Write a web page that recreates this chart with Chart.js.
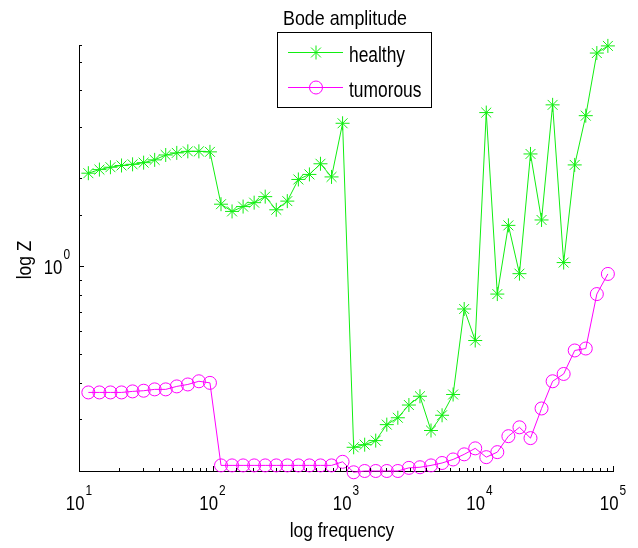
<!DOCTYPE html>
<html>
<head>
<meta charset="utf-8">
<script src="https://cdn.jsdelivr.net/npm/chart.js@4.4.0/dist/chart.umd.min.js"></script>
<style>
  html, body { margin: 0; padding: 0; background: #fff; }
  #wrap { width: 638px; height: 548px; }
</style>
</head>
<body>
<div id="wrap"><canvas id="bode"></canvas></div>
<script>
// frequencies (Hz)
const freqs = [
  11.75, 14.22, 17.2, 20.82, 25.19, 30.48, 36.88, 44.62, 54.0, 65.34, 79.07, 95.68,
  115.8, 140.1, 169.5, 205.1, 248.2, 300.4, 363.4, 439.8, 532.1, 643.9, 779.2, 942.8,
  1141, 1380, 1670, 2021, 2445, 2959, 3581, 4333, 5243, 6345, 7677, 9290,
  11240, 13600, 16460, 19920, 24100, 29160, 35290, 42700, 51670, 62520, 75660, 91550
];

const healthy = [
  2.08, 2.14, 2.18, 2.21, 2.23, 2.26, 2.31, 2.40, 2.44, 2.47, 2.47, 2.46,
  1.63, 1.54, 1.60, 1.65, 1.73, 1.56, 1.67, 1.98, 2.06, 2.24, 2.02, 3.08,
  0.241, 0.246, 0.254, 0.288, 0.304, 0.336, 0.360, 0.275, 0.310, 0.365, 0.715, 0.558,
  3.35, 0.804, 1.38, 0.944, 2.42, 1.44, 3.56, 1.03, 2.22, 3.27, 5.35, 5.66
];

const tumorous = [
  0.371, 0.371, 0.371, 0.371, 0.374, 0.376, 0.380, 0.380, 0.389, 0.395, 0.405, 0.400,
  0.209, 0.209, 0.209, 0.209, 0.209, 0.209, 0.209, 0.209, 0.209, 0.209, 0.209, 0.215,
  0.198, 0.200, 0.200, 0.200, 0.200, 0.205, 0.206, 0.209, 0.213, 0.219, 0.228, 0.239,
  0.223, 0.232, 0.263, 0.282, 0.259, 0.327, 0.405, 0.429, 0.516, 0.524, 0.804, 0.942
];

const xTickExp = [1, 2, 3, 4, 5];
const yTickExp = [0];

const GREEN = '#11ee11';
const MAGENTA = '#ff00ff';
const FONT = "'Liberation Sans', Arial, Helvetica, sans-serif";

// condensed text, like the original Helvetica rendering
function squeezeText(ctx, text, x, y, size, sx, align) {
  ctx.save();
  ctx.font = size + 'px ' + FONT;
  const w = ctx.measureText(text).width * sx;
  let x0 = x;
  if (align === 'center') x0 = x - w / 2;
  if (align === 'right') x0 = x - w;
  ctx.translate(x0, y);
  ctx.scale(sx, 1);
  ctx.textAlign = 'left';
  ctx.textBaseline = 'alphabetic';
  ctx.fillText(text, 0, 0);
  ctx.restore();
  return w;
}

function powerLabel(ctx, exp, x, y, align) {
  ctx.font = '21px ' + FONT;
  const wBase = ctx.measureText('10').width * 0.8;
  ctx.font = '14px ' + FONT;
  const wExp = ctx.measureText(String(exp)).width * 0.85;
  const total = wBase + 1 + wExp;
  let x0 = align === 'right' ? x - total : x - total / 2;
  squeezeText(ctx, '10', x0, y, 21, 0.8, 'left');
  squeezeText(ctx, String(exp), x0 + wBase + 1, y - 15, 14, 0.85, 'left');
}

const matlabAxes = {
  id: 'matlabAxes',
  afterDraw(chart) {
    const ctx = chart.ctx;
    const xs = chart.scales.x, ys = chart.scales.y;
    const area = chart.chartArea;
    ctx.save();
    ctx.strokeStyle = '#000';
    ctx.lineWidth = 1;

    // inward tick marks
    ctx.beginPath();
    xs.ticks.forEach(t => {
      const px = Math.round(xs.getPixelForValue(t.value)) + 0.5;
      const major = Math.abs(Math.log10(t.value) % 1) < 1e-6;
      ctx.moveTo(px, area.bottom);
      ctx.lineTo(px, area.bottom - (major ? 5 : 3));
    });
    ys.ticks.forEach(t => {
      const py = Math.round(ys.getPixelForValue(t.value)) + 0.5;
      const major = Math.abs(Math.log10(t.value) % 1) < 1e-6;
      ctx.moveTo(area.left, py);
      ctx.lineTo(area.left + (major ? 5 : 3), py);
    });
    ctx.stroke();

    // tick labels
    ctx.fillStyle = '#000';
    xTickExp.forEach(e => {
      powerLabel(ctx, e, xs.getPixelForValue(Math.pow(10, e)), 510, 'center');
    });
    yTickExp.forEach(e => {
      powerLabel(ctx, e, area.left - 9, ys.getPixelForValue(Math.pow(10, e)) + 8, 'right');
    });

    // titles
    squeezeText(ctx, 'Bode amplitude', 345, 25, 21, 0.85, 'center');
    squeezeText(ctx, 'log frequency', 342, 537, 21, 0.83, 'center');
    ctx.save();
    ctx.translate(31, 260);
    ctx.rotate(-Math.PI / 2);
    squeezeText(ctx, 'log Z', 0, 0, 21, 0.83, 'center');
    ctx.restore();

    // legend
    ctx.fillStyle = '#fff';
    ctx.fillRect(277.5, 32.5, 154, 75);
    ctx.strokeStyle = '#000';
    ctx.strokeRect(277.5, 32.5, 154, 75);
    const entries = [
      { label: 'healthy', ds: chart.data.datasets[0], y: 52 },
      { label: 'tumorous', ds: chart.data.datasets[1], y: 87 }
    ];
    entries.forEach(en => {
      ctx.strokeStyle = en.ds.borderColor;
      ctx.fillStyle = 'rgba(0,0,0,0)';
      ctx.lineWidth = 1;
      ctx.beginPath();
      ctx.moveTo(288, en.y + 0.5);
      ctx.lineTo(343, en.y + 0.5);
      ctx.stroke();
      Chart.helpers.drawPoint(ctx, {
        pointStyle: en.ds.pointStyle,
        radius: en.ds.pointRadius,
        rotation: 0,
        borderWidth: 1
      }, 316, en.y + 0.5);
      ctx.fillStyle = '#000';
      squeezeText(ctx, en.label, 349, en.y + 10, 22, 0.79, 'left');
    });
    ctx.restore();
  }
};

new Chart(document.getElementById('bode'), {
  type: 'line',
  data: {
    datasets: [
      {
        label: 'healthy',
        data: freqs.map((f, i) => ({ x: f, y: healthy[i] })),
        borderColor: GREEN,
        backgroundColor: 'rgba(0,0,0,0)',
        borderWidth: 1,
        pointStyle: 'star',
        pointRadius: 7,
        pointBorderColor: GREEN,
        pointBorderWidth: 1,
        tension: 0,
        clip: false
      },
      {
        label: 'tumorous',
        data: freqs.map((f, i) => ({ x: f, y: tumorous[i] })),
        borderColor: MAGENTA,
        backgroundColor: 'rgba(0,0,0,0)',
        borderWidth: 1,
        pointStyle: 'circle',
        pointRadius: 6.5,
        pointBorderColor: MAGENTA,
        pointBackgroundColor: 'rgba(0,0,0,0)',
        pointBorderWidth: 1,
        tension: 0,
        clip: false
      }
    ]
  },
  options: {
    responsive: true,
    maintainAspectRatio: false,
    animation: false,
    layout: {
      padding: { left: 79, right: 25, top: 45, bottom: 77 }
    },
    plugins: {
      legend: { display: false },
      title: { display: false },
      tooltip: { enabled: false }
    },
    scales: {
      x: {
        type: 'logarithmic',
        min: 10,
        max: 100000,
        grid: { display: false, drawTicks: false },
        border: { display: true, color: '#000', width: 1 },
        ticks: { display: false }
      },
      y: {
        type: 'logarithmic',
        min: 0.2,
        max: 5.7,
        grid: { display: false, drawTicks: false },
        border: { display: true, color: '#000', width: 1 },
        ticks: { display: false }
      }
    }
  },
  plugins: [matlabAxes]
});
</script>
</body>
</html>
